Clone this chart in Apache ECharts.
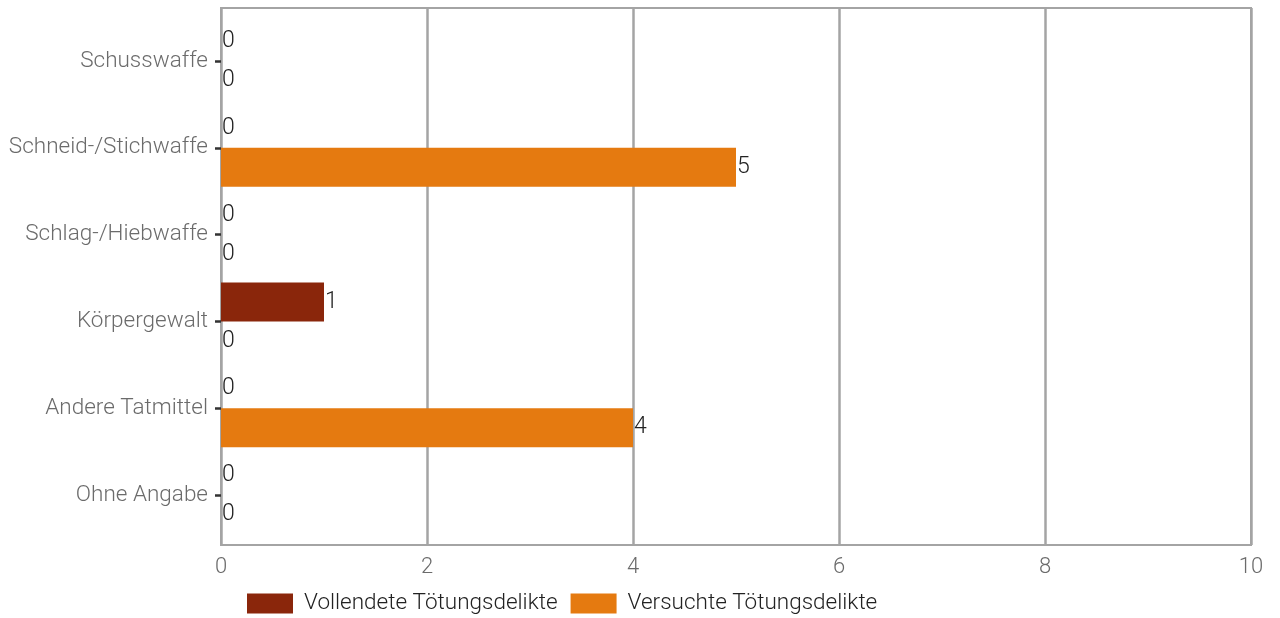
<!DOCTYPE html>
<html><head><meta charset="utf-8">
<script src="https://cdn.jsdelivr.net/npm/echarts@6/dist/echarts.min.js"></script>
<style>html,body{margin:0;padding:0;background:#fff}#c{width:1280px;height:618px}</style>
</head><body><div id="c"></div>
<script>
const categories = ['Schusswaffe','Schneid-/Stichwaffe','Schlag-/Hiebwaffe','Körpergewalt','Andere Tatmittel','Ohne Angabe'];
const vollendete = [0,0,0,1,0,0];
const versuchte = [0,5,0,0,4,0];
const xTicks = [0,2,4,6,8,10];
const seriesNames = ['Vollendete Tötungsdelikte','Versuchte Tötungsdelikte'];

const FONT = 'Roboto';
const labelCfg = {show:true, position:'right', distance:1, color:'#222', fontSize:23, fontWeight:300, fontFamily:FONT, padding:[3,0,0,0]};
const chart = echarts.init(document.getElementById('c'));
chart.setOption({
  animation:false,
  textStyle:{fontFamily:FONT},
  grid:[
    {left:221, right:29, top:8, bottom:73, show:true, borderColor:'#a4a4a4', borderWidth:2, backgroundColor:'transparent'},
    {left:221, right:29, top:17.7, bottom:79.7}
  ],
  xAxis:[
    {gridIndex:0, type:'value', min:xTicks[0], max:xTicks[xTicks.length-1], interval:2,
     axisLine:{show:false}, axisTick:{show:false},
     splitLine:{show:true, lineStyle:{color:'#a4a4a4', width:2.5}},
     axisLabel:{color:'#6b6b6b', fontSize:22, fontWeight:300, fontFamily:FONT, margin:11}},
    {gridIndex:1, type:'value', min:0, max:10, show:false}
  ],
  yAxis:[
    {gridIndex:0, type:'value', show:false},
    {gridIndex:1, type:'category', inverse:true, data:categories,
     axisLine:{show:false},
     axisTick:{show:true, alignWithLabel:true, length:6, lineStyle:{color:'#333', width:2.5}},
     splitLine:{show:false},
     axisLabel:{color:'#6b6b6b', fontSize:22.5, fontWeight:300, fontFamily:FONT, margin:13, padding:[2,0,0,0]}}
  ],
  legend:{left:247, top:592, padding:0, itemWidth:46, itemHeight:20, itemGap:13, icon:'rect',
    textStyle:{color:'#222', fontSize:22.5, fontWeight:300, fontFamily:FONT, padding:[0,0,0,6]},
    data:seriesNames},
  series:[
    {name:seriesNames[0], type:'bar', xAxisIndex:1, yAxisIndex:1, data:vollendete, barWidth:39, barGap:'0%',
     itemStyle:{color:'#8a260b'}, label:labelCfg},
    {name:seriesNames[1], type:'bar', xAxisIndex:1, yAxisIndex:1, data:versuchte, barWidth:39, barGap:'0%',
     itemStyle:{color:'#e57a10'}, label:labelCfg}
  ]
});
</script></body></html>
